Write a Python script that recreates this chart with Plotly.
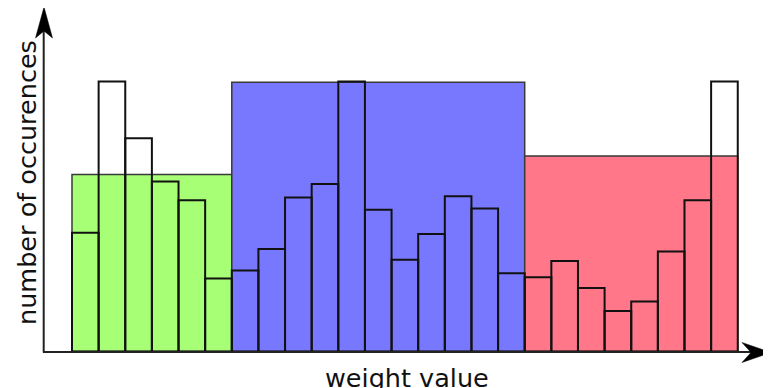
import plotly.graph_objects as go

# ---- data ----
bin_counts = [4.4, 10.0, 7.9, 6.3, 5.6, 2.7,
              3.0, 3.8, 5.7, 6.2, 10.0, 5.25, 3.4, 4.35, 5.75, 5.3, 2.9,
              2.75, 3.35, 2.35, 1.5, 1.85, 3.7, 5.6, 10.0]
group_names = ["low", "mid", "high"]
group_start = [0, 6, 17]
group_end = [6, 17, 25]
group_level = [6.56, 9.97, 7.24]
group_colors = ["#a6ff75", "#7878ff", "#ff7788"]
x_label = "weight value"
y_label = "number of occurences"

OFF = 8  # page body margin
W, H = 771 - OFF, 388 - OFF
X0_PX, BIN_PX = 72.0 - OFF, 26.63
Y0_PX, UNIT_PX = 351.5 - OFF, 27.0

fig = go.Figure()

# group background bars
for name, s, e, lvl, col in zip(group_names, group_start, group_end, group_level, group_colors):
    fig.add_trace(go.Bar(
        x=[(s + e) / 2], y=[lvl], width=[e - s],
        marker=dict(color=col, line=dict(color="#3a3a3a", width=1.5)),
        name=name, showlegend=False, hoverinfo="skip"))

# histogram bars (outline only)
centers = [i + 0.5 for i in range(len(bin_counts))]
fig.add_trace(go.Bar(
    x=centers, y=bin_counts, width=[1.0] * len(bin_counts),
    marker=dict(color="rgba(0,0,0,0)", line=dict(color="#111111", width=2)),
    showlegend=False))

def px(x):
    return (x - OFF) / W

def py(y):
    return 1 - (y - OFF) / H

shapes = [
    # x axis line
    dict(type="line", xref="paper", yref="paper", x0=px(43), x1=px(752), y0=py(352), y1=py(352),
         line=dict(color="#222222", width=2)),
    # y axis line
    dict(type="line", xref="paper", yref="paper", x0=px(43.7), x1=px(43.7), y0=py(352.5), y1=py(30),
         line=dict(color="#222222", width=2)),
    # y arrow head
    dict(type="path", xref="paper", yref="paper",
         path=f"M {px(44)} {py(7)} L {px(52.5)} {py(38)} L {px(44)} {py(31)} L {px(35.5)} {py(38)} Z",
         fillcolor="black", line=dict(color="black", width=0.5)),
    # x arrow head
    dict(type="path", xref="paper", yref="paper",
         path=f"M {px(771)} {py(352.5)} L {px(742)} {py(342.5)} L {px(751)} {py(352.5)} L {px(742)} {py(362.5)} Z",
         fillcolor="black", line=dict(color="black", width=0.5)),
]

annotations = [
    dict(text=x_label, xref="paper", yref="paper", x=px(407), y=py(378),
         xanchor="center", yanchor="middle", showarrow=False,
         font=dict(family="DejaVu Sans", size=25.5, color="#111111")),
    dict(text=y_label, xref="paper", yref="paper", x=px(26.5), y=py(182.5),
         xanchor="center", yanchor="middle", showarrow=False, textangle=-90,
         font=dict(family="DejaVu Sans", size=25.5, color="#111111")),
]

fig.update_layout(
    width=W, height=H,
    margin=dict(l=0, r=0, t=0, b=0),
    barmode="overlay",
    plot_bgcolor="white", paper_bgcolor="white",
    xaxis=dict(visible=False, range=[-X0_PX / BIN_PX, (W - X0_PX) / BIN_PX], fixedrange=True),
    yaxis=dict(visible=False, range=[-(H - Y0_PX) / UNIT_PX, Y0_PX / UNIT_PX], fixedrange=True),
    shapes=shapes, annotations=annotations,
    showlegend=False,
)

fig.write_html("out.html")
